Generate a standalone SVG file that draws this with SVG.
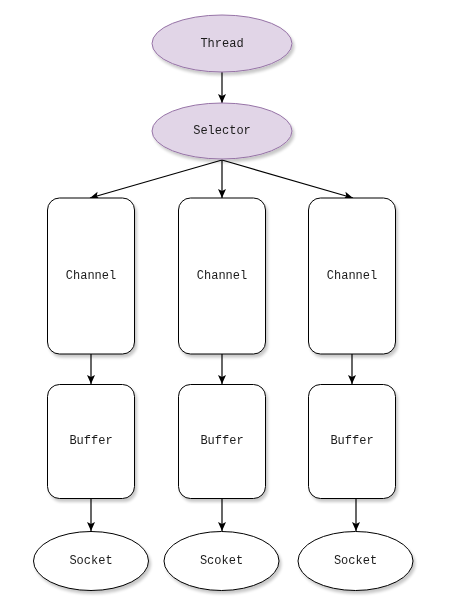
<svg xmlns="http://www.w3.org/2000/svg" width="451" height="604" viewBox="0 0 451 604">
<style>
.lbl{font-family:"Liberation Mono","DejaVu Sans Mono",monospace;font-size:12px;fill:#1a1a1a;text-anchor:middle;dominant-baseline:central}
.pur{fill:#e1d5e7;stroke:#9673a6;stroke-width:1}
.box{fill:#ffffff;stroke:#000000;stroke-width:1}
.edge{stroke:#000000;stroke-width:1.2;fill:none;marker-end:url(#arr)}
</style>
<defs>
<filter id="sh" x="-20%" y="-20%" width="150%" height="150%">
<feGaussianBlur in="SourceAlpha" stdDeviation="1.5"/>
<feOffset dx="2" dy="3" result="b"/>
<feComponentTransfer><feFuncA type="linear" slope="0.22"/></feComponentTransfer>
<feMerge><feMergeNode/><feMergeNode in="SourceGraphic"/></feMerge>
</filter>
<marker id="arr" markerUnits="userSpaceOnUse" markerWidth="12" markerHeight="12" viewBox="0 0 12 12" refX="10" refY="6" orient="auto">
<path d="M1,2 L10,6 L1,10 L3,6 Z" fill="#000"/>
</marker>
</defs>
<g id="connectors">
<line class="edge" x1="222" y1="72" x2="222" y2="103"/>
<line class="edge" x1="222" y1="160" x2="90" y2="198"/>
<line class="edge" x1="222" y1="160" x2="222" y2="198"/>
<line class="edge" x1="222" y1="160" x2="353" y2="198"/>
<line class="edge" x1="91" y1="354" x2="91" y2="384"/>
<line class="edge" x1="222" y1="354" x2="222" y2="384"/>
<line class="edge" x1="352" y1="354" x2="352" y2="384"/>
<line class="edge" x1="91" y1="498" x2="91" y2="531"/>
<line class="edge" x1="222" y1="498" x2="222" y2="531"/>
<line class="edge" x1="356" y1="498" x2="356" y2="531"/>
</g>
<g id="thread" filter="url(#sh)"><ellipse class="pur" cx="222" cy="43.5" rx="70" ry="28.5"/><text class="lbl" x="222" y="44">Thread</text></g>
<g id="selector" filter="url(#sh)"><ellipse class="pur" cx="222" cy="131" rx="70" ry="28"/><text class="lbl" x="222" y="131">Selector</text></g>
<g id="channel1" filter="url(#sh)"><rect class="box" x="47.5" y="198" width="87" height="156" rx="12"/><text class="lbl" x="91" y="276">Channel</text></g>
<g id="channel2" filter="url(#sh)"><rect class="box" x="178.5" y="198" width="87" height="156" rx="12"/><text class="lbl" x="222" y="276">Channel</text></g>
<g id="channel3" filter="url(#sh)"><rect class="box" x="308.5" y="198" width="87" height="156" rx="12"/><text class="lbl" x="352" y="276">Channel</text></g>
<g id="buffer1" filter="url(#sh)"><rect class="box" x="47.5" y="384.5" width="87" height="114" rx="12"/><text class="lbl" x="91" y="441">Buffer</text></g>
<g id="buffer2" filter="url(#sh)"><rect class="box" x="178.5" y="384.5" width="87" height="114" rx="12"/><text class="lbl" x="222" y="441">Buffer</text></g>
<g id="buffer3" filter="url(#sh)"><rect class="box" x="308.5" y="384.5" width="87" height="114" rx="12"/><text class="lbl" x="352" y="441">Buffer</text></g>
<g id="socket1" filter="url(#sh)"><ellipse class="box" cx="91" cy="561" rx="57.5" ry="29.5"/><text class="lbl" x="91" y="561">Socket</text></g>
<g id="socket2" filter="url(#sh)"><ellipse class="box" cx="221.5" cy="561" rx="57.5" ry="29.5"/><text class="lbl" x="221.5" y="561">Scoket</text></g>
<g id="socket3" filter="url(#sh)"><ellipse class="box" cx="355.5" cy="561" rx="57.5" ry="29.5"/><text class="lbl" x="355.5" y="561">Socket</text></g>
</svg>
